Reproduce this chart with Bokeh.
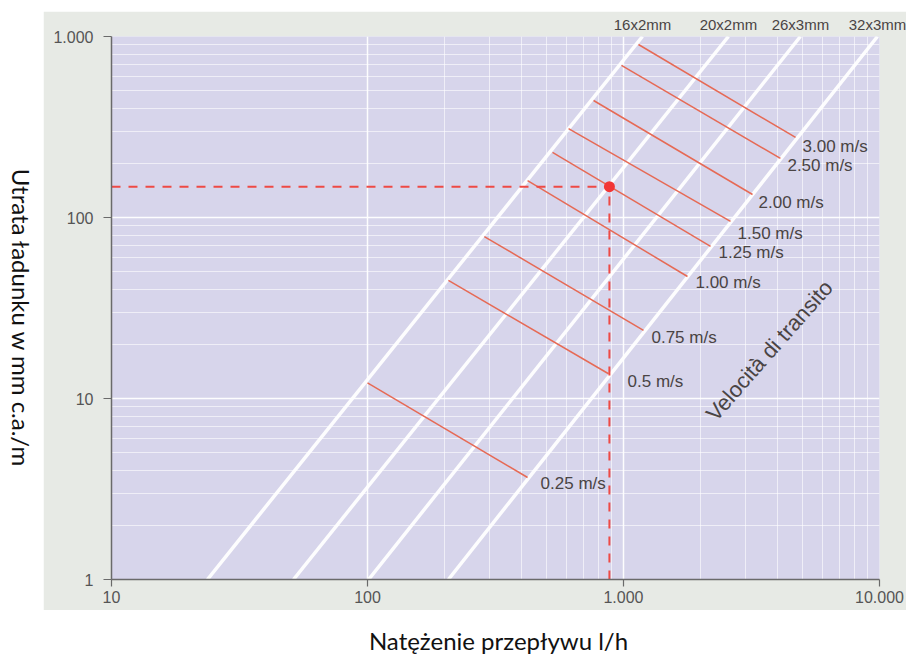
from bokeh.plotting import figure
from bokeh.models import FixedTicker, LogAxis, Spacer
from bokeh.layouts import column, row
from bokeh.core.properties import value
from bokeh.embed import file_html
from bokeh.resources import INLINE

# ---------------- data ----------------
pipe_names = ["16x2mm", "20x2mm", "26x3mm", "32x3mm"]
pipe_flow_at_loss_min = [23.7, 51.4, 101.0, 207.0]      # l/h at 1 mm c.a./m
pipe_flow_at_loss_max = [1186.0, 2570.0, 4910.0, 9820.0]  # l/h at 1000 mm c.a./m
loss_min = 1
loss_max = 1000

velocity_labels = ["0.25 m/s", "0.5 m/s", "0.75 m/s", "1.00 m/s", "1.25 m/s",
                   "1.50 m/s", "2.00 m/s", "2.50 m/s", "3.00 m/s"]
vel_flow_start = [100, 207, 286, 422, 528, 610, 764, 982, 1144]
vel_loss_start = [12.2, 44.9, 78.5, 160, 229, 310, 443, 692, 903]
vel_flow_end = [422, 874, 1197, 1778, 2188, 2618, 3192, 4102, 4699]
vel_loss_end = [3.66, 13.7, 23.8, 47.2, 69.2, 95.1, 134, 212, 277]

example_flow = [881]
example_loss = [148]

x_ticks = [10, 100, 1000, 10000]
x_tick_labels = ["10", "100", "1.000", "10.000"]
y_ticks = [1, 10, 100, 1000]
y_tick_labels = ["1", "10", "100", "1.000"]

x_title = "Natężenie przepływu l/h"
y_title = "Utrata ładunku w mm c.a./m"
transit_caption = "Velocità di transito"

# ---------------- styling ----------------
LAVENDER = "#d7d5eb"
PAPER = "#e7eae5"
TXT = "#4a4444"
RED_LINE = "#e66a55"
RED_DASH = "#ee4a45"
vel_dx = [13, 19, 8, 8, 8, 7, 6, 7, 7]
vel_dy = [6, 8, 7, 6, 6, 12, 8, 7, 9]

W_TOTAL, H_TOTAL = 906, 657
TOP_GAP, LEFT_GAP, MAIN_H = 11, 43, 599

p = figure(width=W_TOTAL - LEFT_GAP, height=MAIN_H, x_axis_type="log", y_axis_type="log",
           x_range=(10, 10000), y_range=(1, 1000),
           output_backend="svg", toolbar_location=None,
           min_border_left=68, min_border_right=27,
           min_border_top=25, min_border_bottom=31)
p.background_fill_color = LAVENDER
p.border_fill_color = PAPER
p.outline_line_color = None

for ax, ticks, labels in [(p.xaxis, x_ticks, x_tick_labels), (p.yaxis, y_ticks, y_tick_labels)]:
    ax.ticker = FixedTicker(ticks=ticks, minor_ticks=[])
    ax.major_label_overrides = {t: l for t, l in zip(ticks, labels)}
    ax.axis_line_color = "#6a6a6a"
    ax.axis_line_width = 1.5
    ax.major_tick_line_color = "#6a6a6a"
    ax.major_tick_line_width = 1.2
    ax.major_tick_in = 0
    ax.minor_tick_line_color = None
    ax.major_label_text_font = "Liberation Sans"
    ax.major_label_text_font_size = "16px"
    ax.major_label_text_color = "#555555"
p.xaxis.major_tick_out = 7
p.yaxis.major_tick_out = 8
p.xaxis.major_label_standoff = 4
p.yaxis.major_label_standoff = 10

# pipe names: an axis along the top, one tick at the top end of each pipe line
top_axis = LogAxis(ticker=FixedTicker(ticks=pipe_flow_at_loss_max, minor_ticks=[]),
                   major_label_overrides={q: n for q, n in zip(pipe_flow_at_loss_max, pipe_names)},
                   axis_line_color=None, major_tick_line_color=None,
                   minor_tick_line_color=None, major_tick_in=0, major_tick_out=0,
                   major_label_standoff=4,
                   major_label_text_font="Liberation Sans",
                   major_label_text_font_size="15px",
                   major_label_text_color=TXT)
p.add_layout(top_axis, "above")

x_minor = [m * 10 ** k for k in (2, 3) for m in range(2, 10)]
y_minor = [m * 10 ** k for k in (0, 1, 2) for m in range(2, 10)]
p.xgrid.ticker = FixedTicker(ticks=[100, 1000], minor_ticks=x_minor)
p.ygrid.ticker = FixedTicker(ticks=y_ticks, minor_ticks=y_minor)
for g in (p.xgrid, p.ygrid):
    g.grid_line_color = "white"
    g.grid_line_width = 1.5
    g.grid_line_alpha = 0.95
    g.minor_grid_line_color = "white"
    g.minor_grid_line_width = 1
    g.minor_grid_line_alpha = 0.6

# pipe lines
p.segment(x0=pipe_flow_at_loss_min, y0=[loss_min] * len(pipe_names),
          x1=pipe_flow_at_loss_max, y1=[loss_max] * len(pipe_names),
          line_color="white", line_width=3.5, line_alpha=0.95)

# velocity lines
p.segment(x0=vel_flow_start, y0=vel_loss_start, x1=vel_flow_end, y1=vel_loss_end,
          line_color=RED_LINE, line_width=1.5)
p.text(x=vel_flow_end, y=vel_loss_end, text=velocity_labels,
       x_offset=vel_dx, y_offset=vel_dy,
       text_font=value("Liberation Sans"), text_font_size="17px",
       text_color=TXT, text_align="left", text_baseline="middle")

# example reading
p.line(x=[10, example_flow[0]], y=[example_loss[0], example_loss[0]],
       line_color=RED_DASH, line_width=2, line_dash="9 8")
p.line(x=[example_flow[0], example_flow[0]], y=[loss_min, example_loss[0]],
       line_color=RED_DASH, line_width=2, line_dash="9 8")
p.scatter(x=example_flow, y=example_loss, size=11, fill_color="#f23535", line_color=None)

# rotated caption along the velocity scale
p.text(x=[3715], y=[18.4], text=[transit_caption], angle=48.6, angle_units="deg",
       text_font=value("Liberation Sans"), text_font_size="22px",
       text_color=TXT, text_align="center", text_baseline="middle")


def blank(width, height, x_range, y_range):
    f = figure(width=width, height=height, x_range=x_range, y_range=y_range,
               output_backend="svg", toolbar_location=None,
               x_axis_location=None, y_axis_location=None,
               min_border=0, min_border_left=0, min_border_right=0,
               min_border_top=0, min_border_bottom=0)
    f.grid.visible = False
    f.outline_line_color = None
    f.background_fill_color = "white"
    f.border_fill_color = "white"
    return f


# y title (reads top to bottom, as in the reference)
ty = blank(LEFT_GAP, MAIN_H, (0, LEFT_GAP), (TOP_GAP + MAIN_H, TOP_GAP))
ty.text(x=[21], y=[322], text=[y_title], angle=-90, angle_units="deg",
        text_font=value("Lato"), text_font_size="24px", text_color="#111111",
        text_align="center", text_baseline="middle")

# x title
bottom_h = H_TOTAL - TOP_GAP - MAIN_H
tx = blank(W_TOTAL, bottom_h, (0, W_TOTAL), (H_TOTAL, TOP_GAP + MAIN_H))
tx.text(x=[498], y=[640], text=[x_title],
        text_font=value("Lato"), text_font_size="24px", text_color="#111111",
        text_align="center", text_baseline="middle")

layout = column(Spacer(width=W_TOTAL, height=TOP_GAP), row(ty, p), tx)

open("out.html", "w").write(file_html(layout, INLINE))
